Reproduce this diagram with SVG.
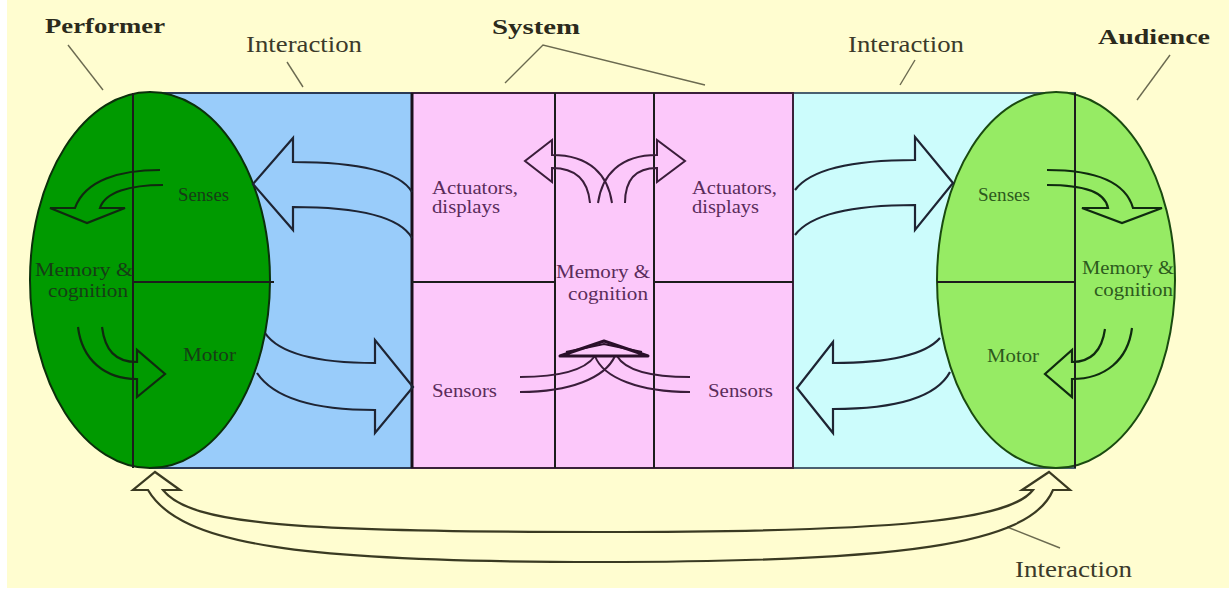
<svg xmlns="http://www.w3.org/2000/svg" width="1229" height="589" viewBox="0 0 1229 589">
<style>
.lbl{font-family:"Liberation Serif",serif;font-size:23px;fill:#3b3a2a}
.bold{font-weight:bold;font-size:20px;fill:#2b2a1c}
.in{font-family:"Liberation Serif",serif;font-size:18px}
.dk{fill:#163d16}
.lg{fill:#2d5a1d}
.pk{fill:#5a2c5a}
.lead{stroke:#6b6a50;stroke-width:1.4;fill:none}
.grid{stroke:#1c1c1c;stroke-width:2;fill:none}
.arr{fill:none;stroke:#1e2433;stroke-width:2.2;stroke-linejoin:miter}
.arrG{fill:none;stroke:#0f2a0f;stroke-width:2.2}
.arrP{fill:none;stroke:#3a1d3a;stroke-width:2}
.arrB{fill:none;stroke:#3a3a22;stroke-width:2.2}
</style>
<rect x="0" y="0" width="1229" height="589" fill="#ffffff"/>
<rect x="7" y="0" width="1222" height="588" fill="#fffdd0"/>

<g id="interaction-left">
<rect x="150" y="93" width="262" height="375" fill="#99ccfa" stroke="#2a3a55" stroke-width="2"/>
</g>
<g id="interaction-right">
<rect x="793" y="93" width="282" height="375" fill="#ccfcfc" stroke="#4a6070" stroke-width="2"/>
</g>
<g id="system">
<rect x="412" y="93" width="381" height="375" fill="#fcc8fa" stroke="#3a203a" stroke-width="2"/>
<line x1="412" y1="93" x2="412" y2="468" stroke="#1a101a" stroke-width="3"/>
<line class="grid" x1="555" y1="93" x2="555" y2="468" stroke="#3a203a"/>
<line class="grid" x1="654" y1="93" x2="654" y2="468" stroke="#3a203a"/>
<line class="grid" x1="412" y1="282" x2="555" y2="282" stroke="#3a203a"/>
<line class="grid" x1="654" y1="282" x2="793" y2="282" stroke="#3a203a"/>
<text class="in pk" x="432" y="194" textLength="86" lengthAdjust="spacingAndGlyphs">Actuators,</text>
<text class="in pk" x="432" y="213" textLength="68" lengthAdjust="spacingAndGlyphs">displays</text>
<text class="in pk" x="692" y="194" textLength="85" lengthAdjust="spacingAndGlyphs">Actuators,</text>
<text class="in pk" x="692" y="213" textLength="67" lengthAdjust="spacingAndGlyphs">displays</text>
<text class="in pk" x="556" y="278" textLength="94" lengthAdjust="spacingAndGlyphs">Memory &amp;</text>
<text class="in pk" x="568" y="300" textLength="80" lengthAdjust="spacingAndGlyphs">cognition</text>
<text class="in pk" x="432" y="397" textLength="65" lengthAdjust="spacingAndGlyphs">Sensors</text>
<text class="in pk" x="708" y="397" textLength="65" lengthAdjust="spacingAndGlyphs">Sensors</text>
</g>

<g id="performer">
<ellipse cx="150" cy="280" rx="120" ry="188" fill="#009a00" stroke="#0b300b" stroke-width="2"/>
<line class="grid" x1="133" y1="93" x2="133" y2="468" stroke="#0b2a0b"/>
<line class="grid" x1="133" y1="282" x2="274" y2="282" stroke="#0b2a0b"/>
<text class="in dk" x="178" y="201" textLength="51" lengthAdjust="spacingAndGlyphs">Senses</text>
<text class="in dk" x="35" y="276" textLength="98" lengthAdjust="spacingAndGlyphs">Memory &amp;</text>
<text class="in dk" x="48" y="297" textLength="80" lengthAdjust="spacingAndGlyphs">cognition</text>
<text class="in dk" x="183" y="361" textLength="53" lengthAdjust="spacingAndGlyphs">Motor</text>
</g>

<g id="audience">
<ellipse cx="1056" cy="280" rx="119" ry="188" fill="#96eb64" stroke="#1a4a10" stroke-width="2"/>
<line class="grid" x1="1075" y1="93" x2="1075" y2="468" stroke="#0f300a"/>
<line class="grid" x1="937" y1="282" x2="1075" y2="282" stroke="#0f300a"/>
<text class="in lg" x="978" y="201" textLength="52" lengthAdjust="spacingAndGlyphs">Senses</text>
<text class="in lg" x="1082" y="274" textLength="92" lengthAdjust="spacingAndGlyphs">Memory &amp;</text>
<text class="in lg" x="1094" y="296" textLength="79" lengthAdjust="spacingAndGlyphs">cognition</text>
<text class="in lg" x="987" y="362" textLength="52" lengthAdjust="spacingAndGlyphs">Motor</text>
</g>

<g id="labels">
<text class="lbl bold" x="45" y="33" textLength="120" lengthAdjust="spacingAndGlyphs">Performer</text>
<text class="lbl" x="246" y="52" textLength="116" lengthAdjust="spacingAndGlyphs">Interaction</text>
<text class="lbl bold" x="492" y="34" textLength="88" lengthAdjust="spacingAndGlyphs">System</text>
<text class="lbl" x="848" y="52" textLength="116" lengthAdjust="spacingAndGlyphs">Interaction</text>
<text class="lbl bold" x="1098" y="44" textLength="112" lengthAdjust="spacingAndGlyphs">Audience</text>
<text class="lbl" x="1015" y="577" textLength="117" lengthAdjust="spacingAndGlyphs">Interaction</text>
</g>

<g id="connectors">
<polyline class="lead" points="68,45 103,90"/>
<polyline class="lead" points="287,62 303,87"/>
<polyline class="lead" points="505,83 543,45 705,85"/>
<polyline class="lead" points="915,60 900,85"/>
<polyline class="lead" points="1170,55 1137,100"/>
<polyline class="lead" points="1007,527 1060,548"/>

<path class="arrG" d="M160,170 C120,170 85,180 75,208 L50,208 L87,223 L125,208 L100,208 C105,192 130,185 163,185"/>
<path class="arrG" d="M102,327 C105,350 115,362 137,362 L137,350 L165,374 L137,397 L137,379 C105,379 82,360 78,327"/>
<path class="arrG" d="M1047,170 C1090,170 1125,180 1133,208 L1162,208 L1122,223 L1082,208 L1108,208 C1105,192 1085,185 1047,185"/>
<path class="arrG" d="M1105,329 C1102,350 1092,362 1072,362 L1072,350 L1045,374 L1072,397 L1072,379 C1105,379 1128,360 1132,328"/>

<path class="arr" d="M412,192 C400,172 360,162 293,162 L293,138 L253,184 L293,230 L293,207 C360,207 400,217 412,238"/>
<path class="arr" d="M265,333 C280,355 320,363 375,363 L375,340 L413,387 L375,433 L375,410 C320,410 275,400 257,373"/>
<path class="arr" d="M795,190 C810,170 850,160 915,160 L915,137 L953,183 L915,230 L915,205 C850,205 810,215 795,235"/>
<path class="arr" d="M940,338 C925,355 890,363 833,363 L833,342 L797,388 L833,433 L833,409 C890,409 935,400 950,372"/>

<path class="arrP" d="M612,203 C608,175 590,155 552,155 L552,140 L525,161 L552,182 L552,168 C575,168 588,180 590,203"/>
<path class="arrP" d="M598,203 C602,175 620,155 657,155 L657,140 L685,161 L657,182 L657,168 C635,168 625,180 625,203"/>
<path class="arrP" d="M520,377 C560,377 585,370 595,356"/>
<path class="arrP" d="M520,392 C570,392 605,378 615,356"/>
<path class="arrP" d="M690,377 C650,377 625,370 617,356"/>
<path class="arrP" d="M690,392 C640,392 603,378 595,356"/>
<path d="M560,356 L604,341 L648,356 Z" fill="none" stroke="#2a102a" stroke-width="3" stroke-linejoin="round"/>
<path d="M566,352 L604,344 L642,352" fill="none" stroke="#2a102a" stroke-width="2"/>

<path class="arrB" d="M148,490 C180,545 300,562 600,562 C900,562 1030,545 1053,490 L1070,490 L1049,472 L1022,490 L1033,490 C1010,520 900,532 600,532 C300,532 190,525 163,490 L180,490 L155,472 L133,490 Z"/>
</g>
</svg>
